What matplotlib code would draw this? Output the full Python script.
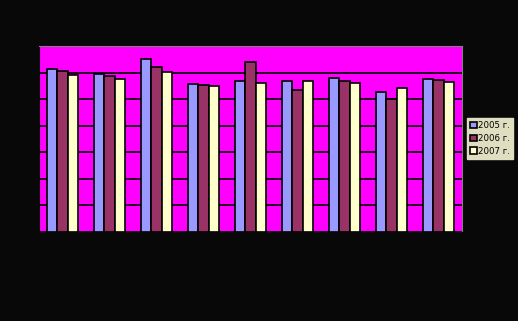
import numpy as np
import matplotlib
matplotlib.use('Agg')
import matplotlib.pyplot as plt

# Values (9 groups, 3 years)
groups = ['1', '2', '3', '4', '5', '6', '7', '8', '9']
years = ['2005 г.', '2006 г.', '2007 г.']
v2005 = [61.5, 59.7, 65.3, 55.8, 57.0, 57.0, 58.1, 52.8, 57.7]
v2006 = [60.8, 58.9, 62.3, 55.5, 64.2, 53.6, 57.0, 50.2, 57.3]
v2007 = [59.2, 57.7, 60.4, 55.1, 56.2, 57.0, 56.2, 54.3, 56.6]
colors = ['#9999FF', '#993366', '#FFFFCC']

fig = plt.figure(figsize=(5.18, 3.21), dpi=100, facecolor='#080808')
ax = fig.add_axes([39 / 518, (321 - 231.7) / 321, 423 / 518, 185.4 / 321])
ax.set_facecolor('#FF00FF')

x = np.arange(len(groups))
w = 0.226
for i, (vals, lab) in enumerate(zip([v2005, v2006, v2007], years)):
    ax.bar(x + (i - 1) * w, vals, w, color=colors[i], edgecolor='black',
           linewidth=1.2, label=lab, zorder=3)

ax.set_xlim(-0.5, len(groups) - 0.5)
ax.set_ylim(0, 70)
ax.set_yticks(np.arange(0, 71, 10))
ax.yaxis.grid(True, color='black', linewidth=1.2, zorder=0)
ax.tick_params(colors='#080808', labelcolor='#080808', length=0)
ax.set_xticks(x)
ax.set_xticklabels(groups)
for s in ['top', 'right']:
    ax.spines[s].set_color('#808080')
for s in ['left', 'bottom']:
    ax.spines[s].set_color('#080808')

# legend box in the right margin
leg = ax.legend(loc='upper left', bbox_to_anchor=(467 / 518, (321 - 118) / 321),
                bbox_transform=fig.transFigure, frameon=True, fancybox=False,
                fontsize=6.2, handlelength=0.8, handleheight=0.8, handletextpad=0.15,
                borderpad=0.35, labelspacing=0.45, borderaxespad=0)
leg.get_frame().set_facecolor('#E0DEC0')
leg.get_frame().set_edgecolor('#E0DEC0')
leg.get_frame().set_alpha(1)

fig.savefig('out.png', dpi=100, facecolor=fig.get_facecolor())
